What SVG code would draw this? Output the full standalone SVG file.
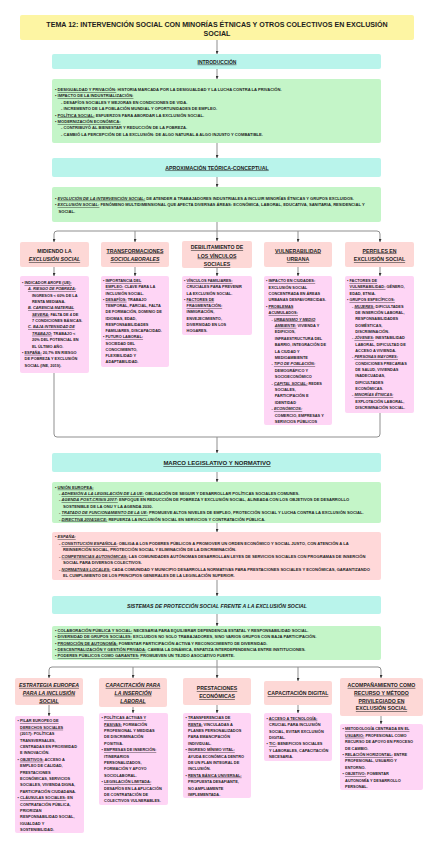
<svg xmlns="http://www.w3.org/2000/svg" width="438" height="848" viewBox="0 0 438 848">
<defs>
<style>
text{font-family:"Liberation Sans",Arial,sans-serif;font-weight:700;fill:#1c1c1c}
.b{font-size:3.9px}
.bw .b{font-size:4.1px}
.h{font-size:5.2px;text-anchor:middle}
.u{text-decoration:underline}
.i{font-style:italic}
.ti{font-size:7.1px;text-anchor:middle}
.yel{fill:#fdf5a3}
.cy{fill:#b9f4eb}
.gr{fill:#c4f5c8}
.pk{fill:#fdd8d6}
.lil{fill:#fed5f5}
.rd{fill:#ffd8d9}
.c{fill:none;stroke:#8f8f8f;stroke-width:1}
.a{marker-end:url(#ah)}
</style>
<marker id="ah" viewBox="0 0 6 6" refX="6" refY="3" markerWidth="3" markerHeight="3" orient="auto"><path d="M0,0 L6,3 L0,6 z" fill="#333"/></marker>
</defs>
<rect width="438" height="848" fill="#fff"/>

<g id="connectors">
<path class="c a" d="M217,40 V54"/>
<path class="c a" d="M217,69 V79"/>
<path class="c a" d="M217,143 V158"/>
<path class="c a" d="M217,177 V187"/>
<path class="c a" d="M217,222 V241"/>
<path class="c a" d="M217,231 H57 Q54,231 54,234 V242"/>
<path class="c a" d="M217,231 H377 Q380,231 380,234 V242"/>
<path class="c a" d="M135,231 V242"/>
<path class="c a" d="M298,231 V242"/>
<path class="c a" d="M54,267 V276"/>
<path class="c a" d="M135,267 V276"/>
<path class="c a" d="M217,268 V276"/>
<path class="c a" d="M298,267 V276"/>
<path class="c a" d="M380,267 V276"/>
<path class="c" d="M54,373 V434 Q54,437 57,437 H377 Q380,437 380,434 V413"/>
<path class="c a" d="M217,437 V453"/>
<path class="c a" d="M217,472 V482"/>
<path class="c a" d="M217,523 V532"/>
<path class="c a" d="M217,580 V596"/>
<path class="c a" d="M217,614 V626"/>
<path class="c a" d="M217,660 V678"/>
<path class="c a" d="M217,667 H52 Q49,667 49,670 V678"/>
<path class="c a" d="M217,667 H378 Q381,667 381,670 V678"/>
<path class="c a" d="M133,667 V678"/>
<path class="c a" d="M298,667 V681"/>
<path class="c a" d="M49,705 V716"/>
<path class="c a" d="M133,707 V713"/>
<path class="c a" d="M217,705 V713"/>
<path class="c a" d="M298,705 V713"/>
<path class="c a" d="M381,716 V724"/>
</g>

<g id="title">
<rect class="yel" x="20" y="15" width="394" height="25" rx="2"/>
<text class="ti" x="217" y="26.9">TEMA 12: INTERVENCIÓN SOCIAL CON MINORÍAS ÉTNICAS Y OTROS COLECTIVOS EN EXCLUSIÓN</text>
<text class="ti" x="217" y="35.9">SOCIAL</text>
</g>

<g id="introduccion">
<rect class="cy" x="52" y="54" width="329" height="15" rx="2"/>
<text class="h u" x="217" y="63.6" style="font-size:5px">INTRODUCCIÓN</text>
</g>

<g id="intro-contenido" class="bw">
<rect class="gr" x="52" y="79" width="329" height="64" rx="2"/>
<text class="b" x="55" y="91">• <tspan class="u">DESIGUALDAD Y PRIVACIÓN:</tspan> HISTORIA MARCADA POR LA DESIGUALDAD Y LA LUCHA CONTRA LA PRIVACIÓN.</text>
<text class="b" x="55" y="97.4">• <tspan class="u">IMPACTO DE LA INDUSTRIALIZACIÓN:</tspan></text>
<text class="b" x="61" y="103.8">- DESAFÍOS SOCIALES Y MEJORAS EN CONDICIONES DE VIDA.</text>
<text class="b" x="61" y="110.2">- INCREMENTO DE LA POBLACIÓN MUNDIAL Y OPORTUNIDADES DE EMPLEO.</text>
<text class="b" x="55" y="116.6">• <tspan class="u">POLÍTICA SOCIAL:</tspan> ESFUERZOS PARA ABORDAR LA EXCLUSIÓN SOCIAL.</text>
<text class="b" x="55" y="123">• <tspan class="u">MODERNIZACIÓN ECONÓMICA:</tspan></text>
<text class="b" x="61" y="129.4">- CONTRIBUYÓ AL BIENESTAR Y REDUCCIÓN DE LA POBREZA.</text>
<text class="b" x="61" y="135.8">- CAMBIÓ LA PERCEPCIÓN DE LA EXCLUSIÓN: DE ALGO NATURAL A ALGO INJUSTO Y COMBATIBLE.</text>
</g>

<g id="aproximacion">
<rect class="cy" x="52" y="158" width="329" height="19" rx="2"/>
<text class="h u" x="217" y="169.5">APROXIMACIÓN TEÓRICA-CONCEPTUAL</text>
</g>

<g id="aproximacion-contenido" class="bw">
<rect class="gr" x="52" y="187" width="329" height="35" rx="2"/>
<text class="b" x="55" y="199.7">• <tspan class="u i">EVOLUCIÓN DE LA INTERVENCIÓN SOCIAL:</tspan> DE ATENDER A TRABAJADORES INDUSTRIALES A INCLUIR MINORÍAS ÉTNICAS Y GRUPOS EXCLUIDOS.</text>
<text class="b" x="55" y="206.1">• <tspan class="u i">EXCLUSIÓN SOCIAL:</tspan> FENÓMENO MULTIDIMENSIONAL QUE AFECTA DIVERSAS ÁREAS: ECONÓMICA, LABORAL, EDUCATIVA, SANITARIA, RESIDENCIAL Y</text>
<text class="b" x="58.5" y="212.5">SOCIAL.</text>
</g>

<g id="midiendo">
<rect class="pk" x="20" y="242" width="69" height="25" rx="2"/>
<text class="h" x="54.5" y="252.5">MIDIENDO LA</text>
<text class="h u i" x="54.5" y="261.1">EXCLUSIÓN SOCIAL</text>
</g>
<g id="midiendo-contenido">
<rect class="lil" x="20" y="276" width="69" height="97" rx="2"/>
<text class="b" x="22" y="284">• <tspan class="u">INDICADOR AROPE (UE):</tspan></text>
<text class="b u i" x="28" y="290.35">A. RIESGO DE POBREZA:</text>
<text class="b" x="32" y="296.7">INGRESOS &lt; 60% DE LA</text>
<text class="b" x="32" y="303.05">RENTA MEDIANA.</text>
<text class="b u i" x="28" y="309.4">B. CARENCIA MATERIAL</text>
<text class="b" x="32" y="315.75"><tspan class="u i">SEVERA:</tspan> FALTA DE 4 DE</text>
<text class="b" x="32" y="322.1">7 CONDICIONES BÁSICAS.</text>
<text class="b u i" x="28" y="328.45">C. BAJA INTENSIDAD DE</text>
<text class="b" x="32" y="334.8"><tspan class="u i">TRABAJO:</tspan> TRABAJO &lt;</text>
<text class="b" x="32" y="341.15">20% DEL POTENCIAL EN</text>
<text class="b" x="32" y="347.5">EL ÚLTIMO AÑO.</text>
<text class="b" x="22" y="353.85">• <tspan class="u">ESPAÑA:</tspan> 20,7% EN RIESGO</text>
<text class="b" x="24.6" y="360.2">DE POBREZA Y EXCLUSIÓN</text>
<text class="b" x="24.6" y="366.55">SOCIAL (INE, 2019).</text>
</g>

<g id="transformaciones">
<rect class="pk" x="101" y="242" width="68" height="25" rx="2"/>
<text class="h u" x="135" y="252.5">TRANSFORMACIONES</text>
<text class="h u i" x="135" y="261.1">SOCIOLABORALES</text>
</g>
<g id="transformaciones-contenido">
<rect class="lil" x="101" y="276" width="68" height="91" rx="2"/>
<text class="b" x="103" y="282.1">• <tspan class="u">IMPORTANCIA DEL</tspan></text>
<text class="b" x="105.6" y="288.35"><tspan class="u">EMPLEO:</tspan> CLAVE PARA LA</text>
<text class="b" x="105.6" y="294.6">INCLUSIÓN SOCIAL.</text>
<text class="b" x="103" y="300.85">• <tspan class="u">DESAFÍOS:</tspan> TRABAJO</text>
<text class="b" x="105.6" y="307.1">TEMPORAL, PARCIAL, FALTA</text>
<text class="b" x="105.6" y="313.35">DE FORMACIÓN, DOMINIO DE</text>
<text class="b" x="105.6" y="319.6">IDIOMAS, EDAD,</text>
<text class="b" x="105.6" y="325.85">RESPONSABILIDADES</text>
<text class="b" x="105.6" y="332.1">FAMILIARES, DISCAPACIDAD.</text>
<text class="b" x="103" y="338.35">• <tspan class="u">FUTURO LABORAL:</tspan></text>
<text class="b" x="105.6" y="344.6">SOCIEDAD DEL</text>
<text class="b" x="105.6" y="350.85">CONOCIMIENTO,</text>
<text class="b" x="105.6" y="357.1">FLEXIBILIDAD Y</text>
<text class="b" x="105.6" y="363.35">ADAPTABILIDAD.</text>
</g>

<g id="debilitamiento">
<rect class="pk" x="182" y="241" width="70" height="27" rx="2"/>
<text class="h u" x="217" y="249.2">DEBILITAMIENTO DE</text>
<text class="h u" x="217" y="257.6">LOS VÍNCULOS</text>
<text class="h u" x="217" y="266">SOCIALES</text>
</g>
<g id="debilitamiento-contenido">
<rect class="lil" x="182" y="276" width="70" height="59" rx="2"/>
<text class="b" x="184" y="282.1">• <tspan class="u">VÍNCULOS FAMILIARES:</tspan></text>
<text class="b" x="186.6" y="288.35">CRUCIALES PARA PREVENIR</text>
<text class="b" x="186.6" y="294.6">LA EXCLUSIÓN SOCIAL.</text>
<text class="b" x="184" y="300.85">• <tspan class="u">FACTORES DE</tspan></text>
<text class="b u" x="186.6" y="307.1">FRAGMENTACIÓN:</text>
<text class="b" x="186.6" y="313.35">INMIGRACIÓN,</text>
<text class="b" x="186.6" y="319.6">ENVEJECIMIENTO,</text>
<text class="b" x="186.6" y="325.85">DIVERSIDAD EN LOS</text>
<text class="b" x="186.6" y="332.1">HOGARES.</text>
</g>

<g id="vulnerabilidad">
<rect class="pk" x="264" y="242" width="68" height="25" rx="2"/>
<text class="h u" x="298" y="252.5">VULNERABILIDAD</text>
<text class="h u" x="298" y="261.1">URBANA</text>
</g>
<g id="vulnerabilidad-contenido">
<rect class="lil" x="264" y="276" width="68" height="149" rx="2"/>
<text class="b" x="266" y="282.1">• <tspan class="u">IMPACTO EN CIUDADES:</tspan></text>
<text class="b" x="268.6" y="288.5">EXCLUSIÓN SOCIAL</text>
<text class="b" x="268.6" y="294.9">CONCENTRADA EN ÁREAS</text>
<text class="b" x="268.6" y="301.3">URBANAS DESFAVORECIDAS.</text>
<text class="b" x="266" y="307.7">• <tspan class="u">PROBLEMAS</tspan></text>
<text class="b u" x="268.6" y="314.1">ACUMULADOS:</text>
<text class="b" x="271.5" y="320.5">- <tspan class="u i">URBANISMO Y MEDIO</tspan></text>
<text class="b" x="274.8" y="326.9"><tspan class="u i">AMBIENTE:</tspan> VIVIENDA Y</text>
<text class="b" x="274.8" y="333.3">EDIFICIOS,</text>
<text class="b" x="274.8" y="339.7">INFRAESTRUCTURA DEL</text>
<text class="b" x="274.8" y="346.1">BARRIO, INTEGRACIÓN DE</text>
<text class="b" x="274.8" y="352.5">LA CIUDAD Y</text>
<text class="b" x="274.8" y="358.9">MEDIOAMBIENTE</text>
<text class="b" x="271.5" y="365.3">- <tspan class="u i">TIPO DE POBLACIÓN:</tspan></text>
<text class="b" x="274.8" y="371.7">DEMOGRÁFICO Y</text>
<text class="b" x="274.8" y="378.1">SOCIOECONÓMICO</text>
<text class="b" x="271.5" y="384.5">- <tspan class="u i">CAPITAL SOCIAL:</tspan> REDES</text>
<text class="b" x="274.8" y="390.9">SOCIALES,</text>
<text class="b" x="274.8" y="397.3">PARTICIPACIÓN E</text>
<text class="b" x="274.8" y="403.7">IDENTIDAD</text>
<text class="b" x="271.5" y="410.1">- <tspan class="u i">ECONÓMICOS:</tspan></text>
<text class="b" x="274.8" y="416.5">COMERCIO, EMPRESAS Y</text>
<text class="b" x="274.8" y="422.9">SERVICIOS PÚBLICOS</text>
</g>

<g id="perfiles">
<rect class="pk" x="345" y="242" width="69" height="25" rx="2"/>
<text class="h u" x="379.5" y="252.5">PERFILES EN</text>
<text class="h u" x="379.5" y="261.1">EXCLUSIÓN SOCIAL</text>
</g>
<g id="perfiles-contenido">
<rect class="lil" x="345" y="276" width="69" height="137" rx="2"/>
<text class="b" x="347" y="282.1">• <tspan class="u">FACTORES DE</tspan></text>
<text class="b" x="349.6" y="288.45"><tspan class="u">VULNERABILIDAD:</tspan> GÉNERO,</text>
<text class="b" x="349.6" y="294.8">EDAD, ETNIA.</text>
<text class="b" x="347" y="301.15">• <tspan class="u">GRUPOS ESPECÍFICOS:</tspan></text>
<text class="b" x="352" y="307.5">- <tspan class="u i">MUJERES:</tspan> DIFICULTADES</text>
<text class="b" x="355.3" y="313.85">DE INSERCIÓN LABORAL,</text>
<text class="b" x="355.3" y="320.2">RESPONSABILIDADES</text>
<text class="b" x="355.3" y="326.55">DOMÉSTICAS,</text>
<text class="b" x="355.3" y="332.9">DISCRIMINACIÓN.</text>
<text class="b" x="352" y="339.25">- <tspan class="u i">JÓVENES:</tspan> INESTABILIDAD</text>
<text class="b" x="355.3" y="345.6">LABORAL, DIFICULTAD DE</text>
<text class="b" x="355.3" y="351.95">ACCESO A VIVIENDA.</text>
<text class="b" x="352" y="358.3">- <tspan class="u i">PERSONAS MAYORES:</tspan></text>
<text class="b" x="355.3" y="364.65">CONDICIONES PRECARIAS</text>
<text class="b" x="355.3" y="371">DE SALUD, VIVIENDAS</text>
<text class="b" x="355.3" y="377.35">INADECUADAS,</text>
<text class="b" x="355.3" y="383.7">DIFICULTADES</text>
<text class="b" x="355.3" y="390.05">ECONÓMICAS.</text>
<text class="b" x="352" y="396.4">- <tspan class="u i">MINORÍAS ÉTNICAS:</tspan></text>
<text class="b" x="355.3" y="402.75">EXPLOTACIÓN LABORAL,</text>
<text class="b" x="355.3" y="409.1">DISCRIMINACIÓN SOCIAL.</text>
</g>

<g id="marco">
<rect class="cy" x="52" y="453" width="329" height="19" rx="2"/>
<text class="h u" x="217" y="465" style="font-size:6px">MARCO LEGISLATIVO Y NORMATIVO</text>
</g>

<g id="union-europea" class="bw">
<rect class="gr" x="52" y="482" width="329" height="41" rx="2"/>
<text class="b" x="55" y="488.7">• <tspan class="u">UNIÓN EUROPEA:</tspan></text>
<text class="b" x="59" y="495">- <tspan class="u i">ADHESIÓN A LA LEGISLACIÓN DE LA UE:</tspan> OBLIGACIÓN DE SEGUIR Y DESARROLLAR POLÍTICAS SOCIALES COMUNES.</text>
<text class="b" x="59" y="501.4">- <tspan class="u i">AGENDA POST-CRISIS 2007:</tspan> ENFOQUE EN REDUCCIÓN DE POBREZA Y EXCLUSIÓN SOCIAL, ALINEADA CON LOS OBJETIVOS DE DESARROLLO</text>
<text class="b" x="63" y="507.8">SOSTENIBLE DE LA ONU Y LA AGENDA 2030.</text>
<text class="b" x="59" y="514.2">- <tspan class="u i">TRATADO DE FUNCIONAMIENTO DE LA UE:</tspan> PROMUEVE ALTOS NIVELES DE EMPLEO, PROTECCIÓN SOCIAL Y LUCHA CONTRA LA EXCLUSIÓN SOCIAL.</text>
<text class="b" x="59" y="520.5">- <tspan class="u i">DIRECTIVA 2004/18/CE:</tspan> REFUERZA LA INCLUSIÓN SOCIAL EN SERVICIOS Y CONTRATACIÓN PÚBLICA.</text>
</g>

<g id="espana" class="bw">
<rect class="rd" x="52" y="532" width="329" height="48" rx="2"/>
<text class="b" x="55" y="538.3">• <tspan class="u i">ESPAÑA:</tspan></text>
<text class="b" x="59" y="545">- <tspan class="u i">CONSTITUCIÓN ESPAÑOLA:</tspan> OBLIGA A LOS PODERES PÚBLICOS A PROMOVER UN ORDEN ECONÓMICO Y SOCIAL JUSTO, CON ATENCIÓN A LA</text>
<text class="b" x="63" y="551.4">REINSERCIÓN SOCIAL, PROTECCIÓN SOCIAL Y ELIMINACIÓN DE LA DISCRIMINACIÓN.</text>
<text class="b" x="59" y="557.8">- <tspan class="u i">COMPETENCIAS AUTONÓMICAS:</tspan> LAS COMUNIDADES AUTÓNOMAS DESARROLLAN LEYES DE SERVICIOS SOCIALES CON PROGRAMAS DE INSERCIÓN</text>
<text class="b" x="63" y="564.2">SOCIAL PARA DIVERSOS COLECTIVOS.</text>
<text class="b" x="59" y="570.6">- <tspan class="u i">NORMATIVAS LOCALES:</tspan> CADA COMUNIDAD Y MUNICIPIO DESARROLLA NORMATIVAS PARA PRESTACIONES SOCIALES Y ECONÓMICAS, GARANTIZANDO</text>
<text class="b" x="63" y="577">EL CUMPLIMIENTO DE LOS PRINCIPIOS GENERALES DE LA LEGISLACIÓN SUPERIOR.</text>
</g>

<g id="sistemas">
<rect class="cy" x="52" y="596" width="329" height="18" rx="2"/>
<text class="h i" x="217" y="607.8">SISTEMAS DE PROTECCIÓN SOCIAL FRENTE A LA EXCLUSIÓN SOCIAL</text>
</g>

<g id="sistemas-contenido" class="bw">
<rect class="gr" x="52" y="626" width="329" height="34" rx="2"/>
<text class="b" x="55" y="632">• <tspan class="u">COLABORACIÓN PÚBLICA Y SOCIAL:</tspan> NECESARIA PARA EQUILIBRAR DEPENDENCIA ESTATAL Y RESPONSABILIDAD SOCIAL.</text>
<text class="b" x="55" y="638.3">• <tspan class="u">DIVERSIDAD DE GRUPOS SOCIALES:</tspan> EXCLUIDOS NO SOLO TRABAJADORES, SINO VARIOS GRUPOS CON BAJA PARTICIPACIÓN.</text>
<text class="b" x="55" y="644.6">• <tspan class="u">PROMOCIÓN DE AUTONOMÍA:</tspan> FOMENTAR PARTICIPACIÓN ACTIVA Y RECONOCIMIENTO DE DIVERSIDAD.</text>
<text class="b" x="55" y="650.9">• <tspan class="u">DESCENTRALIZACIÓN Y GESTIÓN PRIVADA:</tspan> CAMBIA LA DINÁMICA, ENFATIZA INTERDEPENDENCIA ENTRE INSTITUCIONES.</text>
<text class="b" x="55" y="657.2">• <tspan class="u">PODERES PÚBLICOS COMO GARANTES:</tspan> PROMUEVEN UN TEJIDO ASOCIATIVO FUERTE.</text>
</g>

<g id="estrategia">
<rect class="pk" x="15" y="678" width="68" height="27" rx="2"/>
<text class="h u i" x="49" y="686.9">ESTRATEGIA EUROPEA</text>
<text class="h u i" x="49" y="694.7">PARA LA INCLUSIÓN</text>
<text class="h u i" x="49" y="702.5">SOCIAL</text>
</g>
<g id="estrategia-contenido">
<rect class="lil" x="15" y="716" width="69" height="117" rx="2"/>
<text class="b" x="17.5" y="722.4">• <tspan class="u">PILAR EUROPEO DE</tspan></text>
<text class="b u" x="20.1" y="728.8">DERECHOS SOCIALES</text>
<text class="b" x="20.1" y="735.2">(2017): POLÍTICAS</text>
<text class="b" x="20.1" y="741.6">TRANSVERSALES,</text>
<text class="b" x="20.1" y="748">CENTRADAS EN PROXIMIDAD</text>
<text class="b" x="20.1" y="754.4">E INNOVACIÓN.</text>
<text class="b" x="17.5" y="760.8">• <tspan class="u">OBJETIVOS:</tspan> ACCESO A</text>
<text class="b" x="20.1" y="767.2">EMPLEO DE CALIDAD,</text>
<text class="b" x="20.1" y="773.6">PRESTACIONES</text>
<text class="b" x="20.1" y="780">ECONÓMICAS, SERVICIOS</text>
<text class="b" x="20.1" y="786.4">SOCIALES, VIVIENDA DIGNA,</text>
<text class="b" x="20.1" y="792.8">PARTICIPACIÓN CIUDADANA.</text>
<text class="b" x="17.5" y="799.2">• <tspan class="u">CLÁUSULAS SOCIALES:</tspan> EN</text>
<text class="b" x="20.1" y="805.6">CONTRATACIÓN PÚBLICA,</text>
<text class="b" x="20.1" y="812">PRIORIZAN</text>
<text class="b" x="20.1" y="818.4">RESPONSABILIDAD SOCIAL,</text>
<text class="b" x="20.1" y="824.8">IGUALDAD Y</text>
<text class="b" x="20.1" y="831.2">SOSTENIBILIDAD.</text>
</g>

<g id="capacitacion-laboral">
<rect class="pk" x="99" y="678" width="68" height="29" rx="2"/>
<text class="h u i" x="133" y="686.9">CAPACITACIÓN PARA</text>
<text class="h u i" x="133" y="694.7">LA INSERCIÓN</text>
<text class="h u i" x="133" y="702.5">LABORAL</text>
</g>
<g id="capacitacion-laboral-contenido">
<rect class="lil" x="99" y="713" width="69" height="92" rx="2"/>
<text class="b" x="101.5" y="719.1">• <tspan class="u">POLÍTICAS ACTIVAS Y</tspan></text>
<text class="b" x="104.1" y="725.5"><tspan class="u">PASIVAS:</tspan> FORMACIÓN</text>
<text class="b" x="104.1" y="731.9">PROFESIONAL Y MEDIDAS</text>
<text class="b" x="104.1" y="738.3">DE DISCRIMINACIÓN</text>
<text class="b" x="104.1" y="744.7">POSITIVA.</text>
<text class="b" x="101.5" y="751.1">• <tspan class="u">EMPRESAS DE INSERCIÓN:</tspan></text>
<text class="b" x="104.1" y="757.5">ITINERARIOS</text>
<text class="b" x="104.1" y="763.9">PERSONALIZADOS,</text>
<text class="b" x="104.1" y="770.3">FORMACIÓN Y APOYO</text>
<text class="b" x="104.1" y="776.7">SOCIOLABORAL.</text>
<text class="b" x="101.5" y="783.1">• <tspan class="u">LEGISLACIÓN LIMITADA:</tspan></text>
<text class="b" x="104.1" y="789.5">DESAFÍOS EN LA APLICACIÓN</text>
<text class="b" x="104.1" y="795.9">DE CONTRATACIÓN DE</text>
<text class="b" x="104.1" y="802.3">COLECTIVOS VULNERABLES.</text>
</g>

<g id="prestaciones">
<rect class="pk" x="183" y="678" width="68" height="27" rx="2"/>
<text class="h u" x="217" y="690.2">PRESTACIONES</text>
<text class="h u" x="217" y="698">ECONÓMICAS</text>
</g>
<g id="prestaciones-contenido">
<rect class="lil" x="183" y="713" width="68" height="85" rx="2"/>
<text class="b" x="185.5" y="719.1">• <tspan class="u">TRANSFERENCIAS DE</tspan></text>
<text class="b" x="188.1" y="725.5"><tspan class="u">RENTA:</tspan> VINCULADAS A</text>
<text class="b" x="188.1" y="731.9">PLANES PERSONALIZADOS</text>
<text class="b" x="188.1" y="738.3">PARA EMANCIPACIÓN</text>
<text class="b" x="188.1" y="744.7">INDIVIDUAL.</text>
<text class="b" x="185.5" y="751.1">• <tspan class="u">INGRESO MÍNIMO VITAL:</tspan></text>
<text class="b" x="188.1" y="757.5">AYUDA ECONÓMICA DENTRO</text>
<text class="b" x="188.1" y="763.9">DE UN PLAN INTEGRAL DE</text>
<text class="b" x="188.1" y="770.3">INCLUSIÓN.</text>
<text class="b" x="185.5" y="776.7">• <tspan class="u">RENTA BÁSICA UNIVERSAL:</tspan></text>
<text class="b" x="188.1" y="783.1">PROPUESTA DESAFIANTE,</text>
<text class="b" x="188.1" y="789.5">NO AMPLIAMENTE</text>
<text class="b" x="188.1" y="795.9">IMPLEMENTADA.</text>
</g>

<g id="capacitacion-digital">
<rect class="pk" x="264" y="681" width="68" height="24" rx="2"/>
<text class="h u" x="298" y="695.4">CAPACITACIÓN DIGITAL</text>
</g>
<g id="capacitacion-digital-contenido">
<rect class="lil" x="264" y="713" width="68" height="48" rx="2"/>
<text class="b" x="266.5" y="719.7">• <tspan class="u">ACCESO A TECNOLOGÍA:</tspan></text>
<text class="b" x="269.1" y="726.1">CRUCIAL PARA INCLUSIÓN</text>
<text class="b" x="269.1" y="732.5">SOCIAL, EVITAR EXCLUSIÓN</text>
<text class="b" x="269.1" y="738.9">DIGITAL.</text>
<text class="b" x="266.5" y="745.3">• <tspan class="u">TIC:</tspan> BENEFICIOS SOCIALES</text>
<text class="b" x="269.1" y="751.7">Y LABORALES, CAPACITACIÓN</text>
<text class="b" x="269.1" y="758.1">NECESARIA.</text>
</g>

<g id="acompanamiento">
<rect class="pk" x="340" y="678" width="83" height="38" rx="2"/>
<text class="h u" x="381.5" y="686.9">ACOMPAÑAMIENTO COMO</text>
<text class="h u" x="381.5" y="694.7">RECURSO Y MÉTODO</text>
<text class="h u" x="381.5" y="702.5">PRIVILEGIADO EN</text>
<text class="h u" x="381.5" y="710.3">EXCLUSIÓN SOCIAL</text>
</g>
<g id="acompanamiento-contenido">
<rect class="lil" x="340" y="724" width="83" height="66" rx="2"/>
<text class="b" x="342.5" y="730.4">• <tspan class="u">METODOLOGÍA CENTRADA EN EL</tspan></text>
<text class="b" x="345.1" y="736.8"><tspan class="u">USUARIO:</tspan> PROFESIONAL COMO</text>
<text class="b" x="345.1" y="743.2">RECURSO DE APOYO EN PROCESO</text>
<text class="b" x="345.1" y="749.6">DE CAMBIO.</text>
<text class="b" x="342.5" y="756">• <tspan class="u">RELACIÓN HORIZONTAL:</tspan> ENTRE</text>
<text class="b" x="345.1" y="762.4">PROFESIONAL, USUARIO Y</text>
<text class="b" x="345.1" y="768.8">ENTORNO.</text>
<text class="b" x="342.5" y="775.2">• <tspan class="u">OBJETIVO:</tspan> FOMENTAR</text>
<text class="b" x="345.1" y="781.6">AUTONOMÍA Y DESARROLLO</text>
<text class="b" x="345.1" y="788">PERSONAL.</text>
</g>
</svg>
